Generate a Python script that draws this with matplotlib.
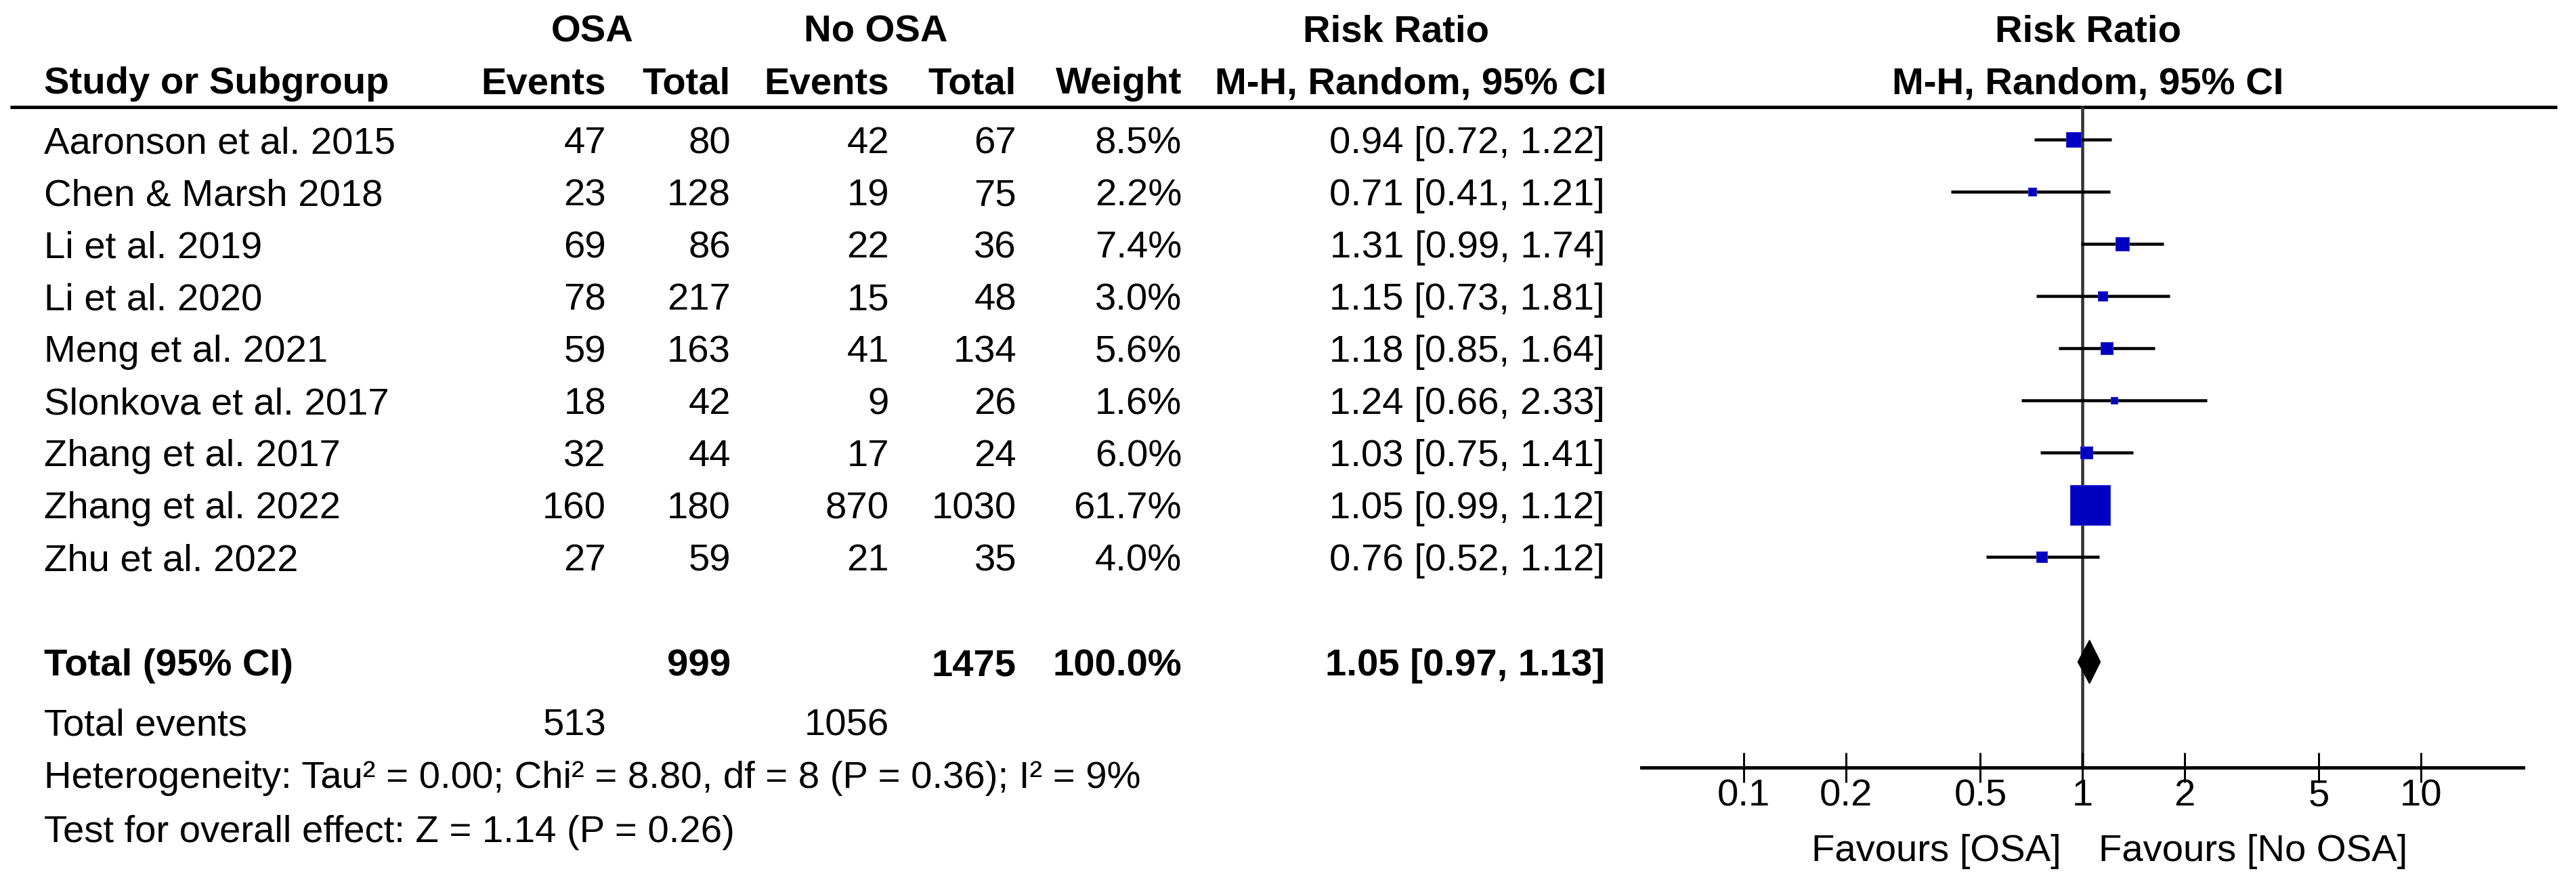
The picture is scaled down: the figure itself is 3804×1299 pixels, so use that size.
import numpy as np
import matplotlib
matplotlib.use("Agg")
import matplotlib.pyplot as plt

plt.rcParams['font.family'] = ['Liberation Sans', 'DejaVu Sans']

studies = ['Aaronson et al. 2015', 'Chen & Marsh 2018', 'Li et al. 2019', 'Li et al. 2020',
           'Meng et al. 2021', 'Slonkova et al. 2017', 'Zhang et al. 2017', 'Zhang et al. 2022',
           'Zhu et al. 2022']
osa_events = [47, 23, 69, 78, 59, 18, 32, 160, 27]
osa_total = [80, 128, 86, 217, 163, 42, 44, 180, 59]
no_events = [42, 19, 22, 15, 41, 9, 17, 870, 21]
no_total = [67, 75, 36, 48, 134, 26, 24, 1030, 35]
weights = [8.5, 2.2, 7.4, 3.0, 5.6, 1.6, 6.0, 61.7, 4.0]
rr = [0.94, 0.71, 1.31, 1.15, 1.18, 1.24, 1.03, 1.05, 0.76]
rr_lo = [0.72, 0.41, 0.99, 0.73, 0.85, 0.66, 0.75, 0.99, 0.52]
rr_hi = [1.22, 1.21, 1.74, 1.81, 1.64, 2.33, 1.41, 1.12, 1.12]

total_osa = 999
total_no = 1475
total_weight = 100.0
total_rr, total_lo, total_hi = 1.05, 0.97, 1.13
events_osa = 513
events_no = 1056
heterogeneity = 'Heterogeneity: Tau² = 0.00; Chi² = 8.80, df = 8 (P = 0.36); I² = 9%'
overall = 'Test for overall effect: Z = 1.14 (P = 0.26)'
ticks = [0.1, 0.2, 0.5, 1, 2, 5, 10]
tick_labels = ['0.1', '0.2', '0.5', '1', '2', '5', '10']

W, H, DPI = 3804, 1299, 100
FS = 40.5
PT = 72.0 / DPI  # points per pixel
BLUE = '#0000C0'

fig = plt.figure(figsize=(W / DPI, H / DPI), dpi=DPI)
tab = fig.add_axes([0, 0, 1, 1])
tab.set_xlim(0, W)
tab.set_ylim(H, 0)
tab.axis('off')

# layout (pixels)
x_name = 65
x_ev1, x_tot1, x_ev2, x_tot2, x_w, x_rr = 895, 1079, 1313, 1501, 1745, 2370
row0, step = 206, 77
y_total, y_events, y_het, y_test = 977, 1065, 1143, 1223
base = 20  # row centre -> baseline


def txt(x, yc, s, ha='left', bold=False):
    tab.text(x, yc + base, s, ha=ha, va='baseline', fontsize=FS,
             fontweight='bold' if bold else 'normal', color='black')


# headers
txt(875, 41, 'OSA', 'center', True)
txt(1293, 41, 'No OSA', 'center', True)
txt(2062, 41, 'Risk Ratio', 'center', True)
txt(3083, 41, 'Risk Ratio', 'center', True)
txt(x_name, 118, 'Study or Subgroup', bold=True)
txt(x_ev1, 118, 'Events', 'right', True)
txt(x_tot1, 118, 'Total', 'right', True)
txt(x_ev2, 118, 'Events', 'right', True)
txt(x_tot2, 118, 'Total', 'right', True)
txt(x_w, 118, 'Weight', 'right', True)
txt(2083, 118, 'M-H, Random, 95% CI', 'center', True)
txt(3083, 118, 'M-H, Random, 95% CI', 'center', True)
tab.plot([15, 3776], [158, 158], color='black', lw=5 * PT, solid_capstyle='butt')

rows = [row0 + step * i for i in range(len(studies))]
for i, yc in enumerate(rows):
    txt(x_name, yc, studies[i])
    txt(x_ev1, yc, str(osa_events[i]), 'right')
    txt(x_tot1, yc, str(osa_total[i]), 'right')
    txt(x_ev2, yc, str(no_events[i]), 'right')
    txt(x_tot2, yc, str(no_total[i]), 'right')
    txt(x_w, yc, f'{weights[i]:.1f}%', 'right')
    txt(x_rr, yc, f'{rr[i]:.2f} [{rr_lo[i]:.2f}, {rr_hi[i]:.2f}]', 'right')

txt(x_name, y_total, 'Total (95% CI)', bold=True)
txt(x_tot1, y_total, str(total_osa), 'right', True)
txt(x_tot2, y_total, str(total_no), 'right', True)
txt(x_w, y_total, f'{total_weight:.1f}%', 'right', True)
txt(x_rr, y_total, f'{total_rr:.2f} [{total_lo:.2f}, {total_hi:.2f}]', 'right', True)
txt(x_name, y_events, 'Total events')
txt(x_ev1, y_events, str(events_osa), 'right')
txt(x_ev2, y_events, str(events_no), 'right')
txt(x_name, y_het, heterogeneity)
txt(x_name, y_test, overall)

# forest panel: log axis 0.05..20, 1 at x=3075, 500 px per decade
x1, dec = 3075, 500
left = x1 - dec * np.log10(20)
ax = fig.add_axes([left / W, 0, 2 * dec * np.log10(20) / W, 1])
ax.set_facecolor('none')
ax.set_xscale('log')
ax.set_xlim(0.05, 20)
ax.set_ylim(H, 0)
ax.set_yticks([])
for s in ['top', 'left', 'right']:
    ax.spines[s].set_visible(False)
y_axis = 1133
ax.spines['bottom'].set_position(('data', y_axis))
ax.spines['bottom'].set_linewidth(5 * PT)
ax.set_xticks(ticks)
ax.set_xticklabels(tick_labels, fontsize=FS)
ax.xaxis.set_minor_locator(matplotlib.ticker.NullLocator())
ax.tick_params(axis='x', direction='inout', length=44 * PT, width=3 * PT, pad=-4)

ax.plot([1, 1], [158, y_axis], color='#333333', lw=4.5 * PT, zorder=1)

for i, yc in enumerate(rows):
    ax.plot([rr_lo[i], rr_hi[i]], [yc, yc], color='black', lw=4.5 * PT,
            solid_capstyle='butt', zorder=2)
    side = 59 * np.sqrt(weights[i] / 61.7)
    ax.scatter([rr[i]], [yc], marker='s', s=(side * PT) ** 2, color=BLUE,
               edgecolors='#3030D0', linewidths=0.8, zorder=3)

hd = 32
ax.fill([total_lo, total_rr, total_hi, total_rr],
        [y_total, y_total - hd, y_total, y_total + hd], color='black', zorder=3)

ax.annotate('Favours [OSA]', xy=(1, 1251 + base), xytext=(-31 * PT, 0),
            textcoords='offset points', ha='right', va='baseline', fontsize=FS)
ax.annotate('Favours [No OSA]', xy=(1, 1251 + base), xytext=(24 * PT, 0),
            textcoords='offset points', ha='left', va='baseline', fontsize=FS)

fig.savefig('out.png', dpi=DPI)
